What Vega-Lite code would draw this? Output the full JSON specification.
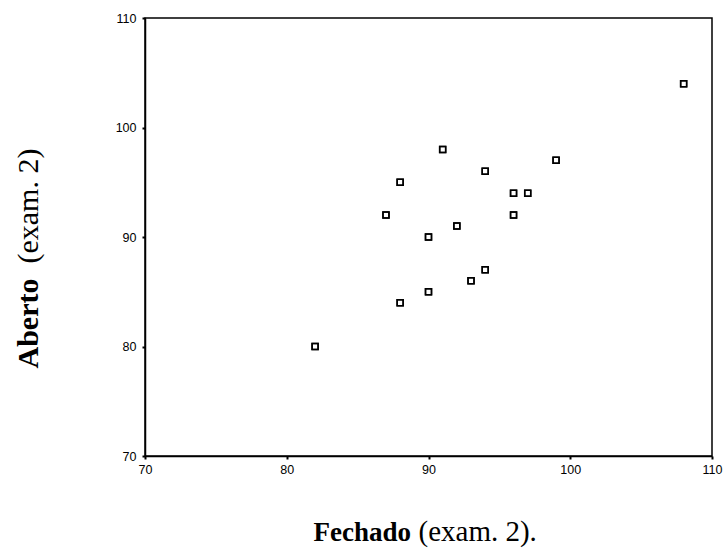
{
  "$schema": "https://vega.github.io/schema/vega-lite/v6.json",
  "width": 567,
  "height": 438,
  "autosize": {"type": "none"},
  "padding": {"left": 145, "top": 18, "right": 15, "bottom": 94},
  "background": "white",
  "config": {
    "view": {"stroke": "black", "strokeWidth": 1.5},
    "axis": {
      "domainColor": "black",
      "domainWidth": 1.5,
      "tickColor": "black",
      "tickWidth": 2,
      "tickSize": 3,
      "grid": false,
      "labelFlush": false,
      "labelFont": "Liberation Sans",
      "labelFontSize": 12.5,
      "labelColor": "black",
      "titleFont": "Liberation Serif",
      "titleFontSize": 27,
      "titleColor": "black"
    }
  },
  "data": {
    "values": [
      {"fechado": 82, "aberto": 80},
      {"fechado": 87, "aberto": 92},
      {"fechado": 88, "aberto": 95},
      {"fechado": 88, "aberto": 84},
      {"fechado": 90, "aberto": 90},
      {"fechado": 90, "aberto": 85},
      {"fechado": 91, "aberto": 98},
      {"fechado": 92, "aberto": 91},
      {"fechado": 93, "aberto": 86},
      {"fechado": 94, "aberto": 96},
      {"fechado": 94, "aberto": 87},
      {"fechado": 96, "aberto": 94},
      {"fechado": 96, "aberto": 92},
      {"fechado": 97, "aberto": 94},
      {"fechado": 99, "aberto": 97},
      {"fechado": 108, "aberto": 104}
    ]
  },
  "resolve": {"axis": {"x": "independent", "y": "independent"}},
  "layer": [
    {
      "mark": {"type": "point", "shape": "square", "filled": false, "size": 36, "strokeWidth": 1.5, "color": "black", "opacity": 1},
      "encoding": {
        "x": {
          "field": "fechado", "type": "quantitative",
          "scale": {"domain": [70, 110], "nice": false, "zero": false},
          "axis": {
            "values": [70, 80, 90, 100, 110],
            "labelPadding": 4,
            "title": "Fechado",
            "titleFontWeight": "bold",
            "titleFontSize": 27,
            "titleAlign": "left",
            "titleBaseline": "alphabetic",
            "titleX": 168,
            "titleY": 84
          }
        },
        "y": {
          "field": "aberto", "type": "quantitative",
          "scale": {"domain": [70, 110], "nice": false, "zero": false},
          "axis": {
            "values": [70, 80, 90, 100, 110],
            "labelPadding": 6,
            "title": "Aberto",
            "titleFontWeight": "bold",
            "titleFontSize": 30,
            "titleAngle": -90,
            "titleAlign": "left",
            "titleBaseline": "alphabetic",
            "titleX": -108,
            "titleY": 350
          }
        }
      }
    },
    {
      "mark": {"type": "point", "shape": "square", "filled": false, "size": 36, "strokeWidth": 1.5, "color": "black", "opacity": 1},
      "encoding": {
        "x": {
          "field": "fechado", "type": "quantitative",
          "axis": {
            "orient": "bottom",
            "labels": false, "ticks": false, "domain": false,
            "title": "(exam. 2).",
            "titleFontWeight": "normal",
            "titleFontSize": 29,
            "titleAlign": "left",
            "titleBaseline": "alphabetic",
            "titleX": 273,
            "titleY": 84
          }
        },
        "y": {
          "field": "aberto", "type": "quantitative",
          "axis": {
            "orient": "left",
            "labels": false, "ticks": false, "domain": false,
            "title": "(exam. 2)",
            "titleFontWeight": "normal",
            "titleFontSize": 30,
            "titleAngle": -90,
            "titleAlign": "left",
            "titleBaseline": "alphabetic",
            "titleX": -108,
            "titleY": 245
          }
        }
      }
    }
  ]
}
